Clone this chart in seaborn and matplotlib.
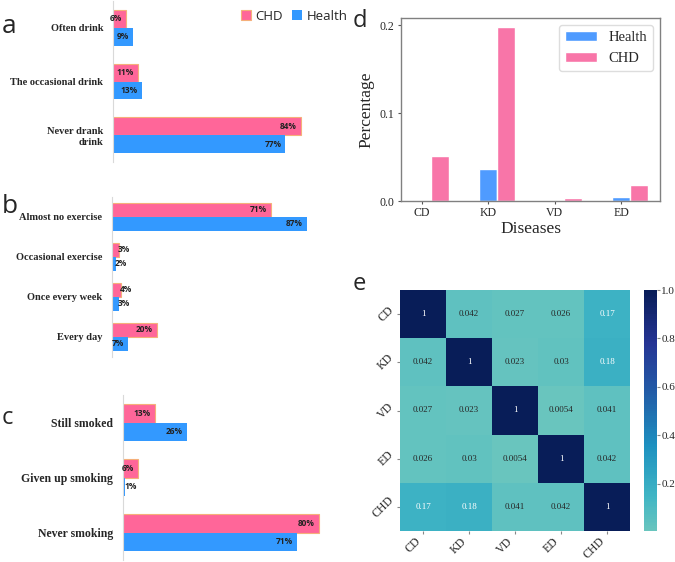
import numpy as np
import pandas as pd
import matplotlib
matplotlib.use('Agg')
import matplotlib.pyplot as plt
import seaborn as sns
from matplotlib.patches import Patch
from matplotlib.colors import ListedColormap
from matplotlib.ticker import FormatStrFormatter

# ---------------- data ----------------
drink_cats = ['Often drink', 'The occasional drink', 'Never drank\ndrink']
drink_chd = [6, 11, 84]
drink_health = [9, 13, 77]

exercise_cats = ['Almost no exercise', 'Occasional exercise', 'Once every week', 'Every day']
exercise_chd = [71, 3, 4, 20]
exercise_health = [87, 2, 3, 7]

smoke_cats = ['Still smoked', 'Given up smoking', 'Never smoking']
smoke_chd = [13, 6, 80]
smoke_health = [26, 1, 71]

disease_cats = ['CD', 'KD', 'VD', 'ED']
disease_health = [0.0008, 0.037, 0.0, 0.004]
disease_chd = [0.051, 0.1985, 0.003, 0.0185]

corr_labels = ['CD', 'KD', 'VD', 'ED', 'CHD']
corr_values = [[1, 0.042, 0.027, 0.026, 0.17],
               [0.042, 1, 0.023, 0.03, 0.18],
               [0.027, 0.023, 1, 0.0054, 0.041],
               [0.026, 0.03, 0.0054, 1, 0.042],
               [0.17, 0.18, 0.041, 0.042, 1]]

# ---------------- style ----------------
PINK = '#FF6699'
BLUE = '#3399FF'
EDGE = '#F5B07A'
D_BLUE = '#4F9BFF'
D_PINK = '#F875A8'
SERIF = 'Liberation Serif'
SANS = 'Open Sans'

sns.set_style('ticks')
plt.rcParams['font.family'] = ['DejaVu Sans']

W, H = 675, 562
fig = plt.figure(figsize=(W / 100, H / 100), dpi=100)


def rect(l, t, r, b):
    return [l / W, 1 - b / H, (r - l) / W, (b - t) / H]


def hbar_panel(box, cats, chd, health, width, label_size):
    ax = fig.add_axes(box)
    df = pd.DataFrame({'cat': list(cats) * 2,
                       'grp': ['CHD'] * len(cats) + ['Health'] * len(cats),
                       'val': list(chd) + list(health)})
    sns.barplot(data=df, y='cat', x='val', hue='grp', hue_order=['CHD', 'Health'],
                palette={'CHD': PINK, 'Health': BLUE}, orient='h', width=width,
                saturation=1, ax=ax, legend=False)
    for bar in ax.containers[0]:
        bar.set_edgecolor(EDGE)
        bar.set_linewidth(0.8)
    for bar in ax.containers[1]:
        bar.set_linewidth(0)
    for cont in ax.containers:
        for bar in cont:
            v = bar.get_width()
            y = bar.get_y() + bar.get_height() / 2
            if v >= 5:
                ax.annotate(f'{v:.0f}%', (v, y), xytext=(-3, 0), textcoords='offset points',
                            ha='right', va='center', fontsize=6, fontweight='bold',
                            family=SANS, color='#222222')
            else:
                ax.annotate(f'{v:.0f}%', (v, y), xytext=(-1, 0), textcoords='offset points',
                            ha='left', va='center', fontsize=6, fontweight='bold',
                            family=SANS, color='#222222')
    ax.set_xlim(0, 100)
    ax.set_xlabel('')
    ax.set_ylabel('')
    for s in ['top', 'right', 'bottom']:
        ax.spines[s].set_visible(False)
    ax.spines['left'].set_color('#d9d9d9')
    ax.set_xticks([])
    ax.tick_params(axis='y', length=0, pad=7)
    for t in ax.get_yticklabels():
        t.set_family(SERIF)
        t.set_fontweight('bold')
        t.set_fontsize(label_size)
    return ax


ax_a = hbar_panel(rect(113, 1, 337, 162), drink_cats, drink_chd, drink_health, 0.667, 7.5)
ax_b = hbar_panel(rect(112, 197, 336, 357), exercise_cats, exercise_chd, exercise_health, 0.7, 7.5)
ax_c = hbar_panel(rect(123, 395, 368, 560), smoke_cats, smoke_chd, smoke_health, 0.69, 8.5)

ax_a.legend(handles=[Patch(facecolor=PINK, edgecolor=EDGE, linewidth=0.8),
                     Patch(facecolor=BLUE, edgecolor='none')],
            labels=['CHD', 'Health'], ncol=2, loc='upper left',
            bbox_to_anchor=(234 / W, 1 - 3 / H), bbox_transform=fig.transFigure,
            frameon=False, handlelength=0.8, handleheight=0.8, handletextpad=0.3,
            columnspacing=0.7, borderpad=0, prop={'family': SANS, 'size': 9.5})

# ---------------- panel d ----------------
ax_d = fig.add_axes(rect(401, 18, 660, 201))
df_d = pd.DataFrame({'disease': disease_cats * 2,
                     'grp': ['Health'] * len(disease_cats) + ['CHD'] * len(disease_cats),
                     'val': disease_health + disease_chd})
sns.barplot(data=df_d, x='disease', y='val', hue='grp', hue_order=['Health', 'CHD'],
            palette={'Health': D_BLUE, 'CHD': D_PINK}, width=0.54, saturation=1, ax=ax_d)
ax_d.set_xlim(-0.447, 3.447)
centers = [b.get_x() + b.get_width() / 2 for b in ax_d.containers[0]]
ax_d.set_xticks(centers)
ax_d.set_xticklabels(disease_cats, family=SERIF, fontsize=8.5)
ax_d.set_yticks([0, 0.1, 0.2])
ax_d.yaxis.set_major_formatter(FormatStrFormatter('%.1f'))
for t in ax_d.get_yticklabels():
    t.set_family(SERIF)
    t.set_fontsize(8.5)
ax_d.tick_params(length=2.5, pad=2, color='#555555')
ax_d.set_xlabel('Diseases', family=SERIF, fontsize=12.5, labelpad=1)
ax_d.set_ylabel('Percentage', family=SERIF, fontsize=12.5, labelpad=4)
for s in ax_d.spines.values():
    s.set_visible(True)
    s.set_color('#808080')
    s.set_linewidth(1)
h, l = ax_d.get_legend_handles_labels()
ax_d.legend(h, l, loc='upper right', prop={'family': SERIF, 'size': 10.5},
            handlelength=2.2, framealpha=1, edgecolor='#dddddd', fancybox=True)

# ---------------- panel e ----------------
cmap = ListedColormap(plt.get_cmap('YlGnBu')(np.linspace(0.42, 1, 256)))
ax_e = fig.add_axes(rect(400, 290, 630, 531))
cax = fig.add_axes(rect(644, 290, 657, 531))
corr_df = pd.DataFrame(corr_values, index=corr_labels, columns=corr_labels)
sns.heatmap(corr_df, annot=True, cmap=cmap, ax=ax_e, cbar_ax=cax,
            annot_kws={'fontsize': 6.5, 'family': SERIF})
ax_e.set_xticklabels(corr_labels, rotation=45, ha='right', family=SERIF, fontsize=8.5)
ax_e.set_yticklabels(corr_labels, rotation=45, va='center', ha='right', family=SERIF, fontsize=8.5)
ax_e.tick_params(bottom=True, left=True, length=2, pad=1, color='#888888')
cax.set_yticks([0.2, 0.4, 0.6, 0.8, 1.0])
cax.yaxis.set_major_formatter(FormatStrFormatter('%.1f'))
for t in cax.get_yticklabels():
    t.set_family(SERIF)
    t.set_fontsize(8)
cax.tick_params(length=2, pad=1, color='#888888')

# ---------------- panel letters ----------------
for letter, x, y, size in [('a', 2, 33, 19), ('b', 2, 213, 19), ('c', 2, 424, 17),
                           ('d', 353, 27, 17), ('e', 353, 290, 17)]:
    fig.text(x / W, 1 - y / H, letter, family=SANS, fontsize=size, va='baseline', ha='left')

fig.savefig('out.png', dpi=100)
